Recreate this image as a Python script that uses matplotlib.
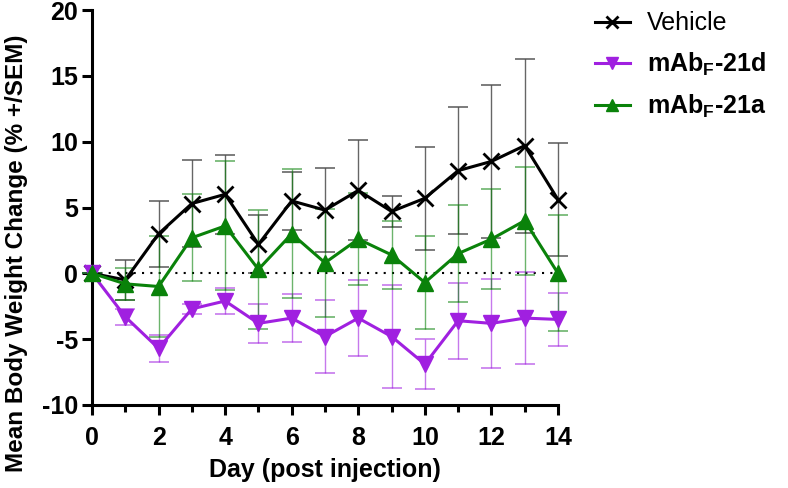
import matplotlib
matplotlib.use("Agg")
import matplotlib.pyplot as plt
import numpy as np

plt.rcParams['font.family'] = ['Liberation Sans', 'DejaVu Sans']
plt.rcParams['mathtext.fontset'] = 'custom'
plt.rcParams['mathtext.rm'] = 'Liberation Sans'
plt.rcParams['mathtext.bf'] = 'Liberation Sans:bold'
plt.rcParams['axes.unicode_minus'] = False

days = list(range(15))
vehicle = [0, -0.5, 3.0, 5.3, 6.0, 2.2, 5.5, 4.8, 6.3, 4.7, 5.7, 7.8, 8.5, 9.7, 5.6]
vehicle_sem = [0, 1.5, 2.5, 3.3, 3.0, 2.2, 2.2, 3.2, 3.8, 1.2, 3.9, 4.8, 5.8, 6.6, 4.3]
mab21d = [0, -3.3, -5.7, -2.7, -2.1, -3.8, -3.4, -4.8, -3.4, -4.8, -6.9, -3.6, -3.8, -3.4, -3.5]
mab21d_sem = [0, 0.6, 1.0, 0.4, 1.0, 1.5, 1.8, 2.8, 2.9, 3.9, 1.9, 2.9, 3.4, 3.5, 2.0]
mab21a = [0, -0.8, -1.0, 2.7, 3.6, 0.3, 3.0, 0.8, 2.6, 1.4, -0.7, 1.5, 2.6, 4.0, 0.0]
mab21a_sem = [0, 1.2, 3.8, 3.3, 4.9, 4.5, 4.9, 4.1, 3.5, 2.6, 3.5, 3.7, 3.8, 4.1, 4.4]

labels = ['Vehicle', r'mAb$_{\mathbf{F}}$-21d', r'mAb$_{\mathbf{F}}$-21a']
colors = ['#000000', '#A020E0', '#0A820A']
markers = ['x', 'v', '^']

fig = plt.figure(figsize=(7.88, 4.88), dpi=100)
ax = fig.add_axes([92/788, 1-405/488, (558-92)/788, (405-10)/488])

ax.axhline(0, color='black', linestyle=(0, (1, 3)), linewidth=1.5, zorder=1)

series = [(vehicle, vehicle_sem), (mab21d, mab21d_sem), (mab21a, mab21a_sem)]
for (vals, sem), lab, c, m in zip(series, labels, colors, markers):
    ax.errorbar(days, vals, yerr=sem, fmt='none', ecolor=c, elinewidth=1,
                capsize=7, capthick=1.2, alpha=0.6, zorder=2, clip_on=False)
    mew = 2 if m == 'x' else 1
    ax.plot(days, vals, color=c, marker=m, markersize=12, markeredgewidth=mew,
            linewidth=2.2, zorder=3, clip_on=False, label=lab)

ax.set_xlim(0, 14)
ax.set_ylim(-10, 20)
ax.set_xticks(range(0, 15, 2))
ax.set_xticks(range(0, 15), minor=True)
ax.set_yticks(range(-10, 21, 5))
for s in ['top', 'right']:
    ax.spines[s].set_visible(False)
for s in ['left', 'bottom']:
    ax.spines[s].set_linewidth(2.2)
ax.tick_params(axis='both', which='major', length=7, width=2.2, labelsize=18, direction='out')
ax.tick_params(axis='x', which='major', pad=8)
ax.tick_params(axis='y', which='major', pad=3)
ax.tick_params(axis='x', which='minor', length=5, width=2.2)
for t in ax.get_xticklabels() + ax.get_yticklabels():
    t.set_fontweight('bold')

ax.set_xlabel('Day (post injection)', fontsize=18, fontweight='bold', labelpad=6)
ax.set_ylabel('Mean Body Weight Change (% +/SEM)', fontsize=17.5, fontweight='bold')
ax.yaxis.set_label_coords(-64/466, 0.385)

handles, _ = ax.get_legend_handles_labels()
leg = fig.legend(handles=handles, labels=labels, loc='upper left',
                 bbox_to_anchor=(572/788, 1 + 11/488), frameon=False,
                 fontsize=18, handlelength=1.4, handletextpad=0.7,
                 labelspacing=0.6, markerscale=0.7)
for i, t in enumerate(leg.get_texts()):
    if i > 0:
        t.set_fontweight('bold')

fig.savefig('out.png', dpi=100)
